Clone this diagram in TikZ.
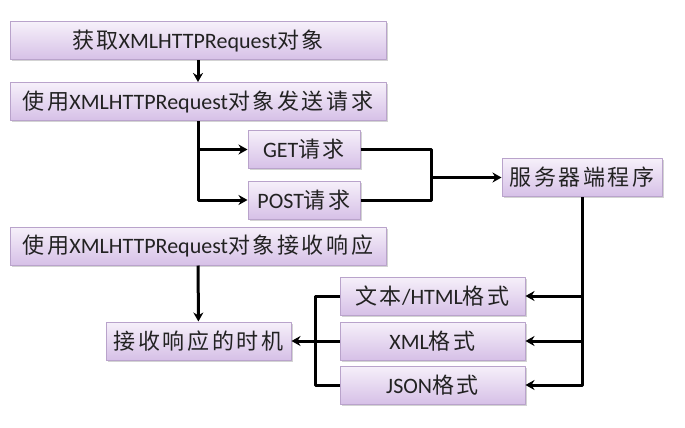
\documentclass[tikz,border=0pt]{standalone}
\usepackage{fontspec}
\setmainfont{Carlito}
\newfontfamily\cjk{Noto Sans CJK SC}[Scale=1.0,LetterSpace=12]
\newcommand{\zh}[1]{{\cjk #1}}
\usetikzlibrary{shadows,arrows.meta}
\definecolor{boxtop}{HTML}{F6F0FA}
\definecolor{boxbot}{HTML}{D6C0E7}
\definecolor{boxline}{HTML}{B9A3CB}
\definecolor{txt}{HTML}{222222}
\begin{document}
\begin{tikzpicture}[x=1pt,y=1pt,line join=round,>={Stealth[length=9pt,width=10pt]},font=\fontsize{22}{26}\selectfont]
            \tikzset{box/.style={draw=boxline,line width=1pt,top color=boxtop,bottom color=boxbot,text=txt,
                inner sep=0pt,minimum height=38pt,drop shadow={shadow xshift=1.5pt,shadow yshift=-1.5pt,opacity=0.35}},
                line/.style={line width=3pt,black}}
            \useasboundingbox (0,0) rectangle (685,-428);
            \node[box,minimum width=376pt] (obj) at (198,-41) {\zh{获取}XMLHTTPRequest\zh{对象}};
            \node[box,minimum width=376pt] (send) at (198,-101.5) {\zh{使用}XMLHTTPRequest\zh{对象发送请求}};
            \node[box,minimum width=112pt] (get) at (304,-149.5) {GET\zh{请求}};
            \node[box,minimum width=112pt] (post) at (304,-200) {POST\zh{请求}};
            \node[box,minimum width=160pt] (server) at (582,-177.5) {\zh{服务器端程序}};
            \node[box,minimum width=376pt] (recv) at (198,-246) {\zh{使用}XMLHTTPRequest\zh{对象接收响应}};
            \node[box,minimum width=185pt] (time) at (198.5,-341) {\zh{接收响应的时机}};
            \foreach \n/\y/\t in {html/-296/{\zh{文本}/HTML\zh{格式}},xml/-341/{XML\zh{格式}},json/-385/{JSON\zh{格式}}}
            \node[box,minimum width=185pt] (\n) at (432.5,\y) {\t};
            \coordinate (jr) at (431,-177.5);
            \coordinate (jl) at (315,-341);
            \draw[line,->] (obj) -- (send);
            \draw[line,->] (send.south) |- (get.west);
            \draw[line,->] (send.south) |- (post.west);
            \draw[line] (get.east) -| (jr);
            \draw[line] (post.east) -| (jr);
            \draw[line,->] (jr) -- (server.west);
            \foreach \n in {html,xml,json}
            \draw[line,->] (server.south) |- (\n.east);
            \draw[line] (html.west) -| (jl);
            \draw[line] (json.west) -| (jl);
            \draw[line,->] (xml.west) -- (time.east);
            \draw[line,->] (recv) -- (time);
        \end{tikzpicture}
\end{document}
